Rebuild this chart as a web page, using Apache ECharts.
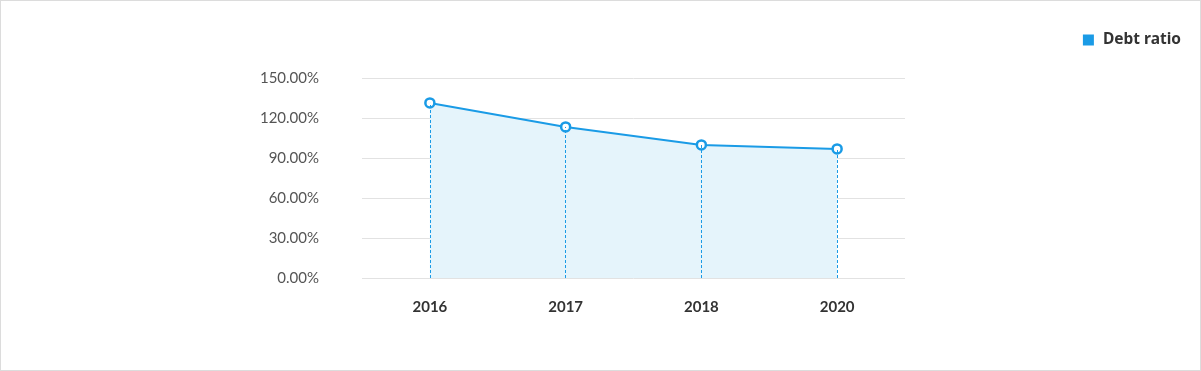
<!DOCTYPE html>
<html><head><meta charset="utf-8">
<script src="https://cdn.jsdelivr.net/npm/echarts@6/dist/echarts.min.js"></script>
<style>html,body{margin:0;padding:0;background:#fff}#c{width:1201px;height:371px;box-sizing:border-box;border:1px solid #dcdcdc}</style>
</head><body><div id="c"></div>
<script>
const categories = ['2016', '2017', '2018', '2020'];
const debtRatio = [131.3, 113.3, 99.8, 96.8];
const yTicks = [0, 30, 60, 90, 120, 150];
const seriesName = 'Debt ratio';

const chart = echarts.init(document.getElementById('c'));
chart.setOption({
  animation: false,
  backgroundColor: '#fff',
  legend: {
    top: 26, right: 14, itemWidth: 11, itemHeight: 11, icon: 'rect', itemGap: 10,
    itemStyle: {color: '#1a9be6', borderWidth: 0},
    textStyle: {fontFamily: 'Noto Sans', fontWeight: 'bold', fontSize: 15.5, color: '#333', padding: [0, 0, 0, 4]},
    data: [seriesName]
  },
  grid: {left: 361, right: 295, top: 77, bottom: 92, containLabel: false},
  xAxis: {
    type: 'category', data: categories, boundaryGap: true,
    axisLine: {show: false}, axisTick: {show: false},
    axisLabel: {margin: 22, fontFamily: 'Lato', fontSize: 15, color: '#333', fontWeight: 'bold'}
  },
  yAxis: {
    type: 'value', min: yTicks[0], max: yTicks[yTicks.length - 1], interval: 30,
    axisLine: {show: false}, axisTick: {show: false},
    splitLine: {lineStyle: {color: '#e2e2e2', width: 1}},
    axisLabel: {margin: 43, fontFamily: 'Lato', fontSize: 15, color: '#555',
      formatter: v => v.toFixed(2) + '%'}
  },
  series: [{
    name: seriesName, type: 'line', data: debtRatio,
    symbol: 'circle', symbolSize: 9, showAllSymbol: true,
    itemStyle: {color: '#fff', borderColor: '#1a9be6', borderWidth: 2.5},
    lineStyle: {color: '#1a9be6', width: 2},
    areaStyle: {color: '#e5f4fb', opacity: 1},
    markLine: {
      silent: true, symbol: ['none', 'none'], label: {show: false},
      lineStyle: {color: '#1a9be6', type: [3, 2], width: 1},
      data: debtRatio.map((v, i) => [{coord: [i, 0]}, {coord: [i, v]}])
    },
    z: 3
  }],
  color: ['#1a9be6']
});
</script></body></html>
